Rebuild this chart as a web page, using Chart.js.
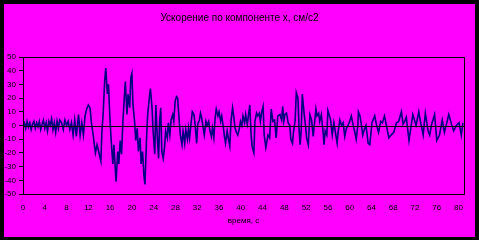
<!DOCTYPE html>
<html><head><meta charset="utf-8">
<script src="https://cdn.jsdelivr.net/npm/chart.js@4/dist/chart.umd.min.js"></script>
<style>
html,body{margin:0;padding:0;background:#000;}
#wrap{position:absolute;left:0;top:0;width:471px;height:233px;border-style:solid;border-color:#000;border-width:4px 4px 3px 4px;background:#ff00ff;}
canvas{display:block}
</style></head><body>
<div id="wrap"><canvas id="c" width="471" height="233"></canvas></div>
<script>
const chartTitle = "Ускорение по компоненте x, см/c2";
const xAxisTitle = "время, с";
const yMin = -50, yMax = 50, yStep = 10;
const xMin = 0, xMax = 81, xStep = 4;

const times = [
0,0.25,0.5,0.75,1,1.25,1.5,1.75,2,2.25,2.5,2.75,3,3.25,3.5,3.75,4,4.25,4.5,4.75,5,5.25,5.5,5.75,6,6.25,6.5,6.75,
7.1,7.4,7.7,8.0,8.3,8.6,8.9,9.2,9.5,9.8,10.2,10.5,10.8,11.1,11.4,11.7,12.0,12.3,12.6,12.9,13.1,13.3,13.6,13.9,14.3,14.5,14.7,15.0,15.2,15.5,15.7,15.96,16.2,16.5,16.7,16.97,17.1,17.4,17.6,17.86,18.1,18.35,18.6,18.8,19.1,19.3,19.6,19.8,20.0,20.2,20.5,20.7,20.97,21.2,21.5,21.7,21.96,22.2,22.4,22.7,22.9,23.2,23.4,23.7,23.9,24.2,24.4,24.65,24.9,
25.1,25.3,25.5,25.75,26.0,26.2,26.5,26.7,26.97,27.2,27.5,27.7,27.95,28.2,28.4,28.7,28.9,29.2,29.4,29.7,29.9,30.2,30.4,30.6,30.9,31.1,31.4,31.6,31.9,32.1,32.4,32.6,32.8,33.1,33.3,33.6,33.8,34.1,34.3,34.6,34.8,35.05,35.3,35.5,35.8,36.0,36.3,36.5,36.75,37.0,37.2,37.5,37.7,37.98,38.2,38.5,38.7,38.96,39.2,39.45,39.7,39.94,40.2,40.4,40.7,40.9,41.2,41.4,41.65,41.9,42.1,42.4,42.6,42.9,43.1,43.4,43.6,43.85,44.1,44.3,44.6,
45.0,45.3,45.6,45.9,46.2,46.5,46.8,47.2,47.5,47.7,47.9,48.1,48.4,48.7,49.0,49.2,49.5,49.7,49.97,50.2,50.5,50.7,50.9,51.1,51.3,51.6,51.8,52.1,52.4,52.7,53.0,53.3,53.5,53.8,54.0,54.3,54.5,54.8,55.1,55.3,55.5,55.8,56.0,56.3,56.5,56.8,57.1,57.3,57.7,57.9,58.2,58.5,58.8,59.1,59.4,59.7,60.0,60.3,60.6,60.9,61.2,61.5,61.6,61.9,62.1,62.4,62.7,63.0,63.4,
63.7,64.1,64.6,64.9,65.3,65.7,66.0,66.4,66.7,67.2,67.6,68.1,68.6,69.0,69.5,69.8,70.1,70.4,70.9,71.3,71.6,71.9,72.2,72.7,73.0,73.5,73.9,74.4,74.7,75.0,75.6,76.0,76.5,77.0,77.4,77.9,78.2,78.7,79.1,79.6,80.1,80.5,80.8
];
const accel = [
0,2,-2,3,-1,2,-3,1,3,-2,2,-1,3,-3,1,4,-2,2,-4,3,0,5,-3,2,-5,3,-2,4,
2,-3,4,0,3,-3,2,-7,4,-8,8,-7,2,-7,7,12,15,13,1,-7,-14,-20,-14,-19,-26,-4,7,32,42,23,30,6,-11,-28,-14,-33,-41,-19,-28,-11,-21,3,20,32,8,23,13,35,38,15,3,-11,-2,-19,-9,-28,-19,-36,-43,-9,8,20,27,13,-4,-21,15,-7,-24,
3,13,-19,-24,-16,-4,-9,2,-7,4,8,3,18,21,20,3,-7,-14,-4,-13,-3,-10,-2,-9,3,10,8,1,-13,1,4,9,6,-2,-7,3,0,3,-3,-8,-2,-9,6,12,7,10,3,7,0,-8,-13,-4,-9,-15,3,13,7,-2,-5,-7,-3,3,0,7,2,8,1,7,15,-7,-16,-20,3,9,7,9,3,10,14,-7,-16,
-7,-9,12,3,4,-9,7,8,4,14,3,8,9,2,0,-10,-13,-4,3,24,20,-2,-14,-4,23,10,3,-9,-14,8,4,-8,0,12,7,9,3,8,-4,-14,-4,-7,11,7,4,-7,2,-3,-13,-4,4,0,2,-8,-2,0,3,7,1,-4,-10,0,10,7,2,-7,-3,0,-13,
-14,2,7,1,-5,3,2,7,1,-9,-7,-5,2,3,10,1,3,6,-11,0,8,4,0,10,3,-7,9,-4,-7,0,8,-11,-7,4,-5,3,8,1,-4,0,2,-7,2
];

const points = times.map((t, i) => ({x: t, y: accel[i]}));
const FONT = "'Liberation Sans', Arial, sans-serif";

const framePlugin = {
  id: 'frame',
  afterDatasetsDraw(chart) {
    const {ctx, chartArea: a, scales: {y}} = chart;
    ctx.save();
    ctx.strokeStyle = '#000';
    ctx.lineWidth = 1;
    const y0 = Math.round(y.getPixelForValue(0)) + 0.5;
    ctx.beginPath();
    ctx.moveTo(a.left, y0); ctx.lineTo(a.right, y0);
    ctx.stroke();
    ctx.strokeRect(Math.round(a.left) + 0.5, Math.round(a.top) + 0.5, Math.round(a.right - a.left), Math.round(a.bottom - a.top));
    ctx.restore();
  }
};

new Chart(document.getElementById('c'), {
  type: 'line',
  data: { datasets: [{ data: points, borderColor: '#000080', borderWidth: 1.6, pointRadius: 0, tension: 0, fill: false }] },
  options: {
    responsive: false, animation: false, devicePixelRatio: 1,
    layout: { padding: 0 },
    plugins: {
      legend: { display: false },
      tooltip: { enabled: false },
      title: { display: true, text: chartTitle, color: '#000', font: { family: FONT, size: 10, weight: 'normal', lineHeight: 1.2 }, padding: { top: 8, bottom: 33 } }
    },
    scales: {
      x: {
        type: 'linear', min: xMin, max: xMax,
        afterFit(s) { s.height = 43; s.paddingLeft = 0; s.paddingRight = 11; },
        grid: { display: false },
        border: { display: false },
        ticks: { stepSize: xStep, includeBounds: false, color: '#000', font: { family: FONT, size: 8 }, padding: 1, maxRotation: 0, autoSkip: false },
        title: { display: true, text: xAxisTitle, color: '#000', font: { family: FONT, size: 8 }, padding: { top: 0, bottom: 11 } }
      },
      y: {
        min: yMin, max: yMax,
        afterFit(s) { s.width = 19; s.paddingTop = 0; s.paddingBottom = 0; },
        grid: { drawOnChartArea: false, color: '#000', tickColor: '#000', tickLength: 4 },
        border: { display: false },
        ticks: { stepSize: yStep, color: '#000', font: { family: FONT, size: 8 }, padding: 3 }
      }
    }
  },
  plugins: [framePlugin]
});
</script>
</body></html>
